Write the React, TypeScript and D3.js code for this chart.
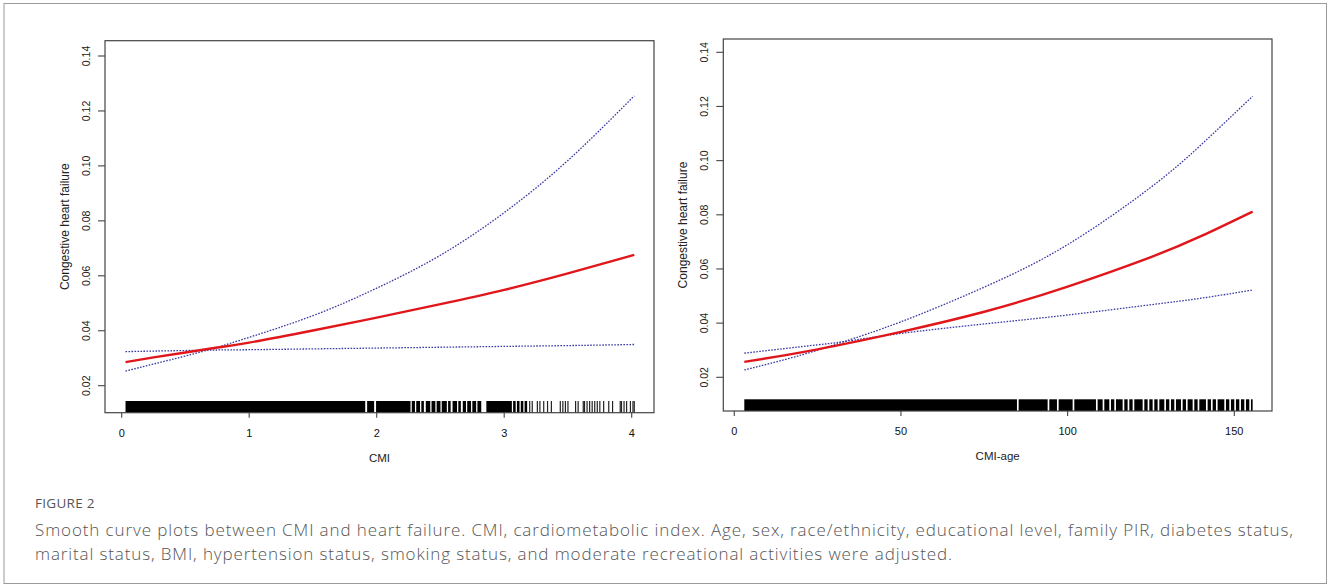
import * as d3 from "d3";

// ---- data ----
// left panel: CMI
const cmiX = [0.03, 0.25, 0.5, 0.75, 1, 1.5, 2, 2.5, 3, 3.5, 4.02];
const cmiFit = [0.0286, 0.0303, 0.0321, 0.0339, 0.0357, 0.0401, 0.0448, 0.0497, 0.0549, 0.0609, 0.0676];
const cmiUpper = [0.0253, 0.0279, 0.0308, 0.034, 0.0376, 0.0455, 0.0555, 0.0675, 0.083, 0.102, 0.1255];
const cmiLower = [0.0324, 0.0326, 0.0328, 0.033, 0.0331, 0.0334, 0.0337, 0.034, 0.0343, 0.0346, 0.035];
// rug: solid runs and single ticks
const cmiRugRuns = [[0.03, 1.91], [1.925, 1.98], [1.995, 2.265], [2.275, 2.3], [2.31, 2.34], [2.35, 2.37], [2.385, 2.42], [2.43, 2.46], [2.47, 2.5], [2.51, 2.55], [2.56, 2.58], [2.595, 2.63], [2.64, 2.66], [2.675, 2.7], [2.71, 2.74], [2.75, 2.78], [2.79, 2.82], [2.86, 3.06], [3.07, 3.09], [3.1, 3.12], [3.13, 3.15], [3.16, 3.18]];
const cmiRugTicks = [3.2, 3.22, 3.26, 3.28, 3.31, 3.34, 3.37, 3.44, 3.46, 3.48, 3.5, 3.56, 3.58, 3.62, 3.63, 3.65, 3.67, 3.69, 3.71, 3.73, 3.75, 3.78, 3.82, 3.85, 3.91, 3.92, 3.94, 3.96, 3.99, 4.01, 4.02];
const cmiTicks = [0, 1, 2, 3, 4];

// right panel: CMI-age
const ageX = [3, 15, 25, 33, 50, 75, 100, 125, 140, 155.5];
const ageFit = [0.0257, 0.0281, 0.0303, 0.0323, 0.0368, 0.0442, 0.0535, 0.0644, 0.0721, 0.0812];
const ageUpper = [0.0227, 0.0265, 0.03, 0.0332, 0.0405, 0.0533, 0.069, 0.0902, 0.1058, 0.1238];
const ageLower = [0.0289, 0.0306, 0.032, 0.0332, 0.0362, 0.0397, 0.043, 0.0468, 0.0492, 0.0522];
const ageRugRuns = [[3, 84.8], [85.3, 94], [94.5, 96.8], [97.3, 101.5], [102, 108.5], [109, 110.5], [111, 112.5], [113, 114], [114.5, 116.5], [117, 118], [118.5, 119.5], [120, 122.5], [123, 124], [124.5, 125.5], [126, 127], [127.5, 129], [129.5, 130.5], [131, 132], [132.5, 134], [134.5, 135.5], [136, 137.5], [138, 139], [139.5, 141.5], [142, 143], [143.5, 144.5], [145, 147], [147.5, 148.5], [149, 150], [150.5, 151.5], [152, 153], [153.5, 154.5], [155, 155.5]];
const ageRugTicks: number[] = [];
const ageTicks = [0, 50, 100, 150];

const yTicks = [0.02, 0.04, 0.06, 0.08, 0.1, 0.12, 0.14];

const captionHead = "FIGURE 2";
const captionLines = [
  "Smooth curve plots between CMI and heart failure. CMI, cardiometabolic index. Age, sex, race/ethnicity, educational level, family PIR, diabetes status,",
  "marital status, BMI, hypertension status, smoking status, and moderate recreational activities were adjusted.",
];

const W = 1328, H = 587;
const RED = "#e0161b", CI = "#3a3aa6", AX = "#444";
const FONT = "'Liberation Sans', Arial, sans-serif";

type PanelProps = {
  box: { l: number; r: number; t: number; b: number };
  xDom: number[]; xRng: number[]; yRng: number[];
  xs: number[]; fit: number[]; up: number[]; lo: number[];
  runs: number[][]; ticks: number[]; xTicks: number[]; xLabel: string;
};

function Panel({ box, xDom, xRng, yRng, xs, fit, up, lo, runs, ticks, xTicks, xLabel }: PanelProps) {
  const sx = d3.scaleLinear().domain(xDom).range(xRng);
  const sy = d3.scaleLinear().domain([0.02, 0.14]).range(yRng);
  const line = (ys: number[]) =>
    d3.line<number>().x((_, i) => sx(xs[i])).y(d => sy(d)).curve(d3.curveNatural)(ys) || "";
  const rugH = 11.7;
  const cx = (box.l + box.r) / 2, cy = (box.t + box.b) / 2;
  return (
    <g>
      {runs.map(([a, b], i) => (
        <rect key={"r" + i} x={sx(a)} y={box.b - rugH} width={Math.max(1, sx(b) - sx(a))} height={rugH} fill="#000" />
      ))}
      {ticks.map((t, i) => (
        <line key={"t" + i} x1={sx(t)} x2={sx(t)} y1={box.b - rugH} y2={box.b} stroke="#222" strokeWidth={1.2} />
      ))}
      <path d={line(up)} fill="none" stroke={CI} strokeWidth={1.3} strokeDasharray="1.6 1.4" />
      <path d={line(lo)} fill="none" stroke={CI} strokeWidth={1.3} strokeDasharray="1.6 1.4" />
      <path d={line(fit)} fill="none" stroke={RED} strokeWidth={2.4} />
      <rect x={box.l} y={box.t} width={box.r - box.l} height={box.b - box.t} fill="none" stroke={AX} strokeWidth={1.2} />
      {yTicks.map(t => (
        <g key={t}>
          <line x1={box.l - 7} x2={box.l} y1={sy(t)} y2={sy(t)} stroke={AX} strokeWidth={1.1} />
          <text transform={`translate(${box.l - 15} ${sy(t)}) rotate(-90)`} textAnchor="middle" fontSize={10.5} fill="#222" fontFamily={FONT}>
            {t.toFixed(2)}
          </text>
        </g>
      ))}
      {xTicks.map(t => (
        <g key={t}>
          <line x1={sx(t)} x2={sx(t)} y1={box.b} y2={box.b + 5} stroke={AX} strokeWidth={1.1} />
          <text x={sx(t)} y={box.b + 24} textAnchor="middle" fontSize={11} fill="#111" fontFamily={FONT}>{t}</text>
        </g>
      ))}
      <text x={cx} y={box.b + 49} textAnchor="middle" fontSize={11.5} fill="#222" fontFamily={FONT}>{xLabel}</text>
      <text transform={`translate(${box.l - 36} ${cy}) rotate(-90)`} textAnchor="middle" fontSize={12} fill="#222" fontFamily={FONT}>
        Congestive heart failure
      </text>
    </g>
  );
}

export default function App() {
  return (
    <svg width={W} height={H} viewBox={`0 0 ${W} ${H}`} style={{ position: "absolute", left: 0, top: 0, background: "#fff" }}>
      <rect x={4} y={3.5} width={1322.5} height={580} fill="#fff" stroke="#9a9a9a" strokeWidth={1} />
      <Panel box={{ l: 105, r: 654, t: 40.7, b: 412.7 }} xDom={[0, 4]} xRng={[121.7, 631.7]} yRng={[385.7, 56]}
        xs={cmiX} fit={cmiFit} up={cmiUpper} lo={cmiLower} runs={cmiRugRuns} ticks={cmiRugTicks} xTicks={cmiTicks} xLabel="CMI" />
      <Panel box={{ l: 723.3, r: 1272, t: 39, b: 411 }} xDom={[0, 150]} xRng={[734.3, 1234.3]} yRng={[377.3, 52.3]}
        xs={ageX} fit={ageFit} up={ageUpper} lo={ageLower} runs={ageRugRuns} ticks={ageRugTicks} xTicks={ageTicks} xLabel="CMI-age" />
      <text x={35} y={508} fontSize={13.5} fill="#555" fontFamily="'Open Sans', sans-serif" letterSpacing={0.3}>{captionHead}</text>
      <text x={35} y={536} fontSize={17} fill="#555" fontFamily="'Open Sans', sans-serif" fontWeight={300} textLength={1258} lengthAdjust="spacing">{captionLines[0]}</text>
      <text x={35} y={560} fontSize={17} fill="#555" fontFamily="'Open Sans', sans-serif" fontWeight={300} textLength={917} lengthAdjust="spacing">{captionLines[1]}</text>
    </svg>
  );
}
